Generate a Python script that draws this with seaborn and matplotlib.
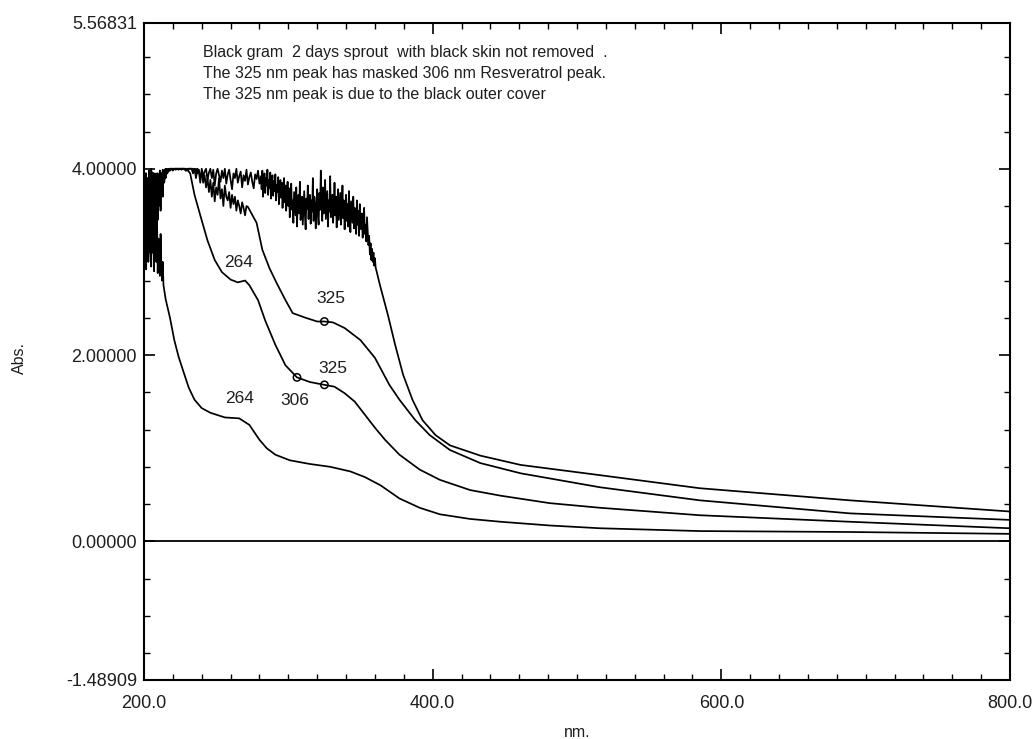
import numpy as np
import pandas as pd
import matplotlib
matplotlib.use("Agg")
import matplotlib.pyplot as plt
import seaborn as sns
from matplotlib.ticker import MultipleLocator, FuncFormatter

# ---------------------------------------------------------------
# UV-Vis absorbance spectra (Abs. vs wavelength in nm).
# The noisy short-wavelength parts are stored as evenly sampled
# segments (start nm, step nm, values); the smooth long-wavelength
# parts are stored as explicit (nm, Abs) pairs.
# ---------------------------------------------------------------

# Spectrum A (most dilute)
a_noise = [3.60, 3.05, 3.85, 2.92, 3.45, 3.78, 3.00, 3.35, 3.70, 3.15,
           2.95, 3.55, 3.10, 3.40, 2.90, 3.65, 3.20, 3.00, 3.50, 2.88,
           3.25, 3.05, 2.85, 3.30, 2.95, 2.80, 3.00, 2.75]
a_tail_wl = [215, 218, 221, 224, 228, 231, 235, 240, 246, 256, 266, 273,
             280, 285, 291, 301, 315, 329, 343, 353, 364, 377, 391, 405,
             426, 447, 481, 516, 585, 689, 800]
a_tail_abs = [2.60, 2.40, 2.16, 1.98, 1.79, 1.65, 1.52, 1.43, 1.38, 1.33,
              1.32, 1.25, 1.09, 1.00, 0.93, 0.87, 0.83, 0.80, 0.75, 0.69,
              0.60, 0.46, 0.36, 0.29, 0.24, 0.21, 0.17, 0.14, 0.11, 0.10,
              0.08]

# Spectrum B
b_noise = [3.30, 3.85, 3.55, 3.95, 3.40, 3.75, 3.15, 3.90, 3.55, 3.70,
           3.98, 3.45, 3.80, 3.25, 3.92, 3.60, 3.85, 3.50, 3.75, 3.95,
           3.62, 3.88, 3.70, 3.96, 3.80, 3.90, 3.75, 3.98, 3.85, 3.92,
           4.00, 3.95]
b_top = [3.95, 3.98, 4.00, 4.00, 3.99, 4.00, 4.00, 4.00, 4.00, 4.00,
         3.99, 4.00, 4.00, 3.98, 4.00, 3.97]
b_tail_wl = [232, 235, 239, 244, 249, 254, 260, 265, 270, 273, 279, 284,
             291, 298, 306, 315, 325, 332, 339, 346, 353, 360, 367, 377,
             391, 405, 426, 447, 481, 516, 585, 689, 800]
b_tail_abs = [3.95, 3.72, 3.50, 3.23, 3.02, 2.89, 2.81, 2.78, 2.80, 2.75,
              2.59, 2.37, 2.11, 1.89, 1.76, 1.71, 1.68, 1.66, 1.59, 1.50,
              1.36, 1.22, 1.09, 0.93, 0.77, 0.66, 0.55, 0.49, 0.41, 0.36,
              0.28, 0.21, 0.14]

# Spectrum C
c_noise = [3.80, 3.30, 3.95, 3.60, 3.05, 3.85, 3.45, 3.98, 3.70, 3.20,
           4.00, 3.35, 3.90, 3.55, 3.65, 3.95, 3.80, 3.40, 3.92, 3.70,
           3.85, 3.60, 3.98, 3.75, 3.95, 3.82, 3.70, 3.96, 3.88, 3.99,
           3.90, 3.97]
c_top = [3.95, 4.00, 3.98, 4.00, 4.00, 4.00, 3.99, 4.00, 4.00, 4.00,
         4.00, 4.00, 4.00, 4.00, 3.98, 4.00, 4.00, 4.00, 4.00, 3.97,
         4.00, 3.95, 3.99, 3.90, 3.96, 3.85, 3.93, 3.80, 3.90, 3.75,
         3.88, 3.70, 3.85, 3.65, 3.80, 3.72, 3.90, 3.68, 3.78, 3.60,
         3.82, 3.70, 3.66, 3.75, 3.58, 3.72, 3.62, 3.70, 3.55, 3.66,
         3.60, 3.52, 3.64, 3.58, 3.50, 3.60]
c_tail_wl = [272, 278, 282, 287, 292, 298, 303, 312, 320, 325, 331, 339,
             350, 360, 370, 377, 388, 398, 412, 433, 461, 516, 585, 689,
             800]
c_tail_abs = [3.59, 3.42, 3.13, 2.93, 2.77, 2.59, 2.45, 2.40, 2.36, 2.36,
              2.35, 2.29, 2.16, 1.97, 1.68, 1.52, 1.30, 1.14, 0.98, 0.84,
              0.73, 0.58, 0.44, 0.30, 0.23]

# Spectrum D (most concentrated, saturated up to ~360 nm)
d_noise = [3.55, 3.95, 3.20, 3.80, 3.05, 3.90, 3.40, 3.98, 3.10, 3.70,
           3.85, 3.30, 3.96, 3.50, 3.75, 3.25, 3.88, 3.60, 3.95, 3.45,
           3.80, 3.65, 3.98, 3.55, 3.92, 3.75, 3.99, 3.85, 3.95, 3.90,
           4.00, 3.97]
d_top = [4.00, 3.97, 4.00, 4.00, 3.98, 4.00, 4.00, 4.00, 3.99, 4.00,
         4.00, 4.00, 4.00, 3.98, 4.00, 4.00, 4.00,
         4.00, 3.95, 4.00, 3.90, 4.00, 3.98, 3.85, 4.00, 3.92, 3.97,
         4.00, 3.88, 3.96, 4.00, 3.90, 3.99, 3.82, 3.95, 4.00, 3.93,
         3.86, 3.98, 3.90, 4.00, 3.84, 3.94, 3.99, 3.88, 3.78, 3.95,
         3.90, 4.00, 3.85, 3.92, 3.97, 3.80, 3.93, 3.87, 3.99, 3.83,
         3.91, 3.96, 3.86, 3.79, 3.94, 3.89, 3.98, 3.84]
d_band = [3.92, 3.78, 3.98, 3.70, 3.86, 3.95, 3.74, 3.90, 3.82, 3.99,
          3.72, 3.88, 3.79, 3.96, 3.68, 3.84, 3.93, 3.71, 3.87, 3.76,
          3.94, 3.66, 3.83, 3.75, 3.91, 3.62, 3.80, 3.88, 3.69, 3.85,
          3.58, 3.77, 3.90, 3.64, 3.82, 3.55, 3.73, 3.86, 3.60, 3.79,
          3.48, 3.70, 3.84, 3.56, 3.66, 3.42, 3.75, 3.62, 3.50, 3.80,
          3.38, 3.64, 3.72, 3.52, 3.86, 3.45, 3.60, 3.70, 3.40, 3.58,
          3.76, 3.50, 3.35, 3.68, 3.57, 3.82, 3.46, 3.63, 3.72, 3.41,
          3.66, 3.54, 3.90, 3.44, 3.70, 3.58, 3.36, 3.64, 3.78, 3.50,
          3.40, 3.74, 3.56, 3.98, 3.62, 3.44, 3.80, 3.52, 3.68, 3.88,
          3.46, 3.60, 3.76, 3.38, 3.66, 3.54, 3.92, 3.48, 3.62, 3.72,
          3.42, 3.58, 3.85, 3.50, 3.70, 3.37, 3.64, 3.78, 3.45, 3.60,
          3.74, 3.40, 3.56, 3.82, 3.47, 3.66, 3.35, 3.58, 3.72, 3.44,
          3.62, 3.38, 3.76, 3.50, 3.32, 3.65, 3.54, 3.42, 3.70, 3.36,
          3.58, 3.48, 3.30, 3.66, 3.40, 3.55, 3.28, 3.62, 3.45, 3.35,
          3.52, 3.26, 3.44, 3.58, 3.30, 3.40, 3.22, 3.48, 3.34, 3.18,
          3.28, 3.08, 3.20, 3.02, 3.14, 3.00, 3.10, 2.96, 3.04, 2.94]
d_tail_wl = [363.5, 369, 374, 379.5, 386, 393, 402, 412, 433, 461, 516,
             585, 689, 800]
d_tail_abs = [2.75, 2.43, 2.11, 1.79, 1.52, 1.30, 1.14, 1.03, 0.92, 0.82,
              0.71, 0.57, 0.44, 0.32]

# Picked peaks (open circles) and their labels
peak_wl = [306, 325, 325]
peak_abs = [1.76, 1.68, 2.36]
label_text = ["264", "264", "306", "325", "325"]
label_wl = [265.8, 266.5, 304.6, 329.6, 331.0]
label_abs = [2.99, 1.53, 1.51, 2.61, 1.86]

notes = ["Black gram  2 days sprout  with black skin not removed  .",
         "The 325 nm peak has masked 306 nm Resveratrol peak.",
         "The 325 nm peak is due to the black outer cover"]

y_min, y_max = -1.48909, 5.56831
x_min, x_max = 200.0, 800.0


def sampled(start, step, values):
    return list(start + step * np.arange(len(values))), list(values)


def spectrum(name, segments, tail_wl, tail_abs):
    wl, ab = [], []
    for start, step, values in segments:
        w, v = sampled(start, step, values)
        wl += w
        ab += v
    wl += list(tail_wl)
    ab += list(tail_abs)
    return pd.DataFrame({"nm": wl, "Abs": ab, "sample": name})


df = pd.concat([
    spectrum("A", [(200, 0.5, a_noise)], a_tail_wl, a_tail_abs),
    spectrum("B", [(200, 0.5, b_noise), (216, 1, b_top)],
             b_tail_wl, b_tail_abs),
    spectrum("C", [(200, 0.5, c_noise), (216, 1, c_top)],
             c_tail_wl, c_tail_abs),
    spectrum("D", [(200, 0.5, d_noise), (216, 1, d_top), (281, 0.5, d_band)],
             d_tail_wl, d_tail_abs),
], ignore_index=True)

sns.set_style("ticks")
plt.rcParams["font.family"] = ["Liberation Sans", "DejaVu Sans"]
text_col = "#1e1e1e"

fig = plt.figure(figsize=(10.34, 7.39), dpi=100)
ax = fig.add_axes([0.13926, 0.07984, 0.83752, 0.88945])

ax.axhline(0, color="black", lw=1.3, zorder=1)
sns.lineplot(data=df, x="nm", y="Abs", units="sample", estimator=None,
             sort=False, color="black", lw=1.25, ax=ax, zorder=2)
sns.scatterplot(x=peak_wl, y=peak_abs, marker="o", s=28,
                facecolor="none", edgecolor="black", linewidth=1.1,
                ax=ax, zorder=3)

for t, xw, ya in zip(label_text, label_wl, label_abs):
    ax.text(xw, ya, t, ha="center", va="center", fontsize=12.5,
            color=text_col)

for i, line in enumerate(notes):
    ax.text(0.068, 0.9554 - i * 0.032, line, transform=ax.transAxes,
            ha="left", va="center", fontsize=11.5, color=text_col)

ax.set_xlim(x_min, x_max)
ax.set_ylim(y_min, y_max)

ax.xaxis.set_major_locator(MultipleLocator(200))
ax.xaxis.set_minor_locator(MultipleLocator(20))
ax.xaxis.set_major_formatter(FuncFormatter(lambda v, p: f"{v:.1f}"))
ax.set_yticks([y_min, 0.0, 2.0, 4.0, y_max])
ax.yaxis.set_major_formatter(FuncFormatter(lambda v, p: f"{v:.5f}"))
ax.yaxis.set_minor_locator(MultipleLocator(0.4))

ax.tick_params(which="both", direction="in", top=True, right=True,
               colors="black", labelcolor=text_col, labelsize=13)
ax.tick_params(which="major", length=8, width=1.2)
ax.tick_params(which="minor", length=4, width=1.0)
ax.tick_params(axis="x", which="major", pad=11)
ax.tick_params(axis="y", which="major", pad=5)

for s in ax.spines.values():
    s.set_linewidth(1.5)
    s.set_color("black")

ax.set_xlabel("nm.", fontsize=11.5, color=text_col)
ax.set_ylabel("Abs.", fontsize=11.5, color=text_col)
ax.xaxis.set_label_coords(0.5, -0.068)
ax.yaxis.set_label_coords(-0.135, 0.49)

fig.savefig("out.png", dpi=100)
